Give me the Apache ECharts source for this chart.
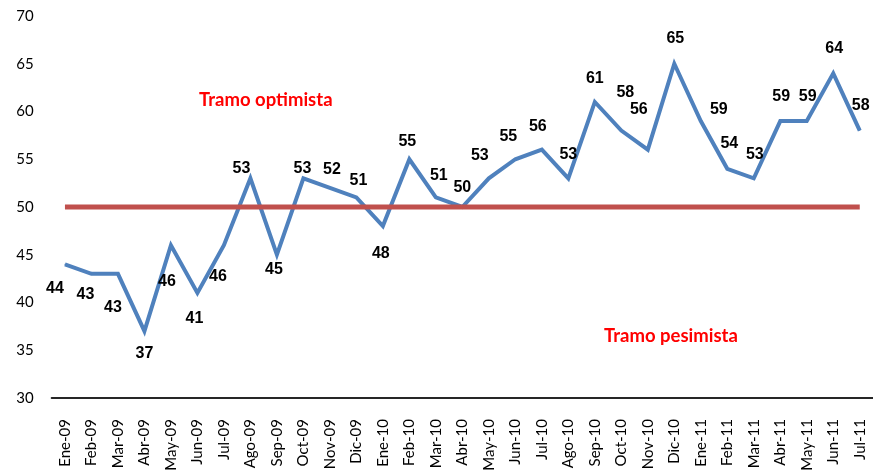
<!DOCTYPE html>
<html>
<head>
<meta charset="utf-8">
<script src="https://cdn.jsdelivr.net/npm/echarts@6/dist/echarts.min.js"></script>
<style>
  html, body { margin: 0; padding: 0; background: #fff; }
  #chart { width: 873px; height: 476px; }
</style>
</head>
<body>
<div id="chart"></div>
<script>
const months = [
  'Ene-09', 'Feb-09', 'Mar-09', 'Abr-09', 'May-09', 'Jun-09', 'Jul-09', 'Ago-09', 'Sep-09', 'Oct-09', 'Nov-09', 'Dic-09',
  'Ene-10', 'Feb-10', 'Mar-10', 'Abr-10', 'May-10', 'Jun-10', 'Jul-10', 'Ago-10', 'Sep-10', 'Oct-10', 'Nov-10', 'Dic-10',
  'Ene-11', 'Feb-11', 'Mar-11', 'Abr-11', 'May-11', 'Jun-11', 'Jul-11'
];
const indice = [
  44, 43, 43, 37, 46, 41, 46, 53, 45, 53, 52, 51,
  48, 55, 51, 50, 53, 55, 56, 53, 61, 58, 56, 65,
  59, 54, 53, 59, 59, 64, 58
];
const umbral = months.map(() => 50);
const yTicks = [30, 35, 40, 45, 50, 55, 60, 65, 70];

// label nudges, as placed by hand in the original
const labelNudge = [
  [-10, 24], [-6, 21], [-5, 34], [0, 22], [-4, 36], [-3, 26], [-6, 31], [-9, -10], [-3, 15], [-1, -10], [2, -18], [2, -17],
  [-2, 27], [-2, -18], [3, -22], [0, -19], [-9, -23], [-7, -23], [-4, -23], [0, -24], [0, -23], [4, -38], [-9, -40], [1, -25],
  [18, -11], [2, -25], [1, -24], [1, -24], [1, -24], [1, -25], [1, -25]
];

const chart = echarts.init(document.getElementById('chart'));

const option = {
  animation: false,
  grid: { left: 51.7, right: -2.3, top: 16, bottom: 78 },
  xAxis: {
    type: 'category',
    data: months,
    boundaryGap: true,
    axisLine: { lineStyle: { color: '#262626', width: 2 } },
    axisTick: { show: false },
    axisLabel: {
      interval: 0,
      rotate: 90,
      margin: 21,
      color: '#000',
      fontFamily: 'Lato',
      fontSize: 15
    }
  },
  yAxis: {
    type: 'value',
    min: yTicks[0],
    max: yTicks[yTicks.length - 1],
    interval: 5,
    splitLine: { show: false },
    axisLine: { show: false },
    axisTick: { show: false },
    axisLabel: {
      margin: 18,
      color: '#000',
      fontFamily: 'Lato',
      fontSize: 15
    }
  },
  graphic: [
    {
      type: 'text', left: 199, top: 91,
      style: { text: 'Tramo optimista', fill: '#ff0000', font: 'bold 18.5px Lato' }
    },
    {
      type: 'text', left: 604, top: 327,
      style: { text: 'Tramo pesimista', fill: '#ff0000', font: 'bold 18.5px Lato' }
    }
  ],
  series: [
    {
      name: 'Indice',
      type: 'line',
      data: indice.map((v, i) => ({
        value: v,
        label: { offset: labelNudge[i] }
      })),
      symbol: 'circle',
      symbolSize: 1,
      itemStyle: { color: '#4f81bd' },
      lineStyle: { color: '#4f81bd', width: 4, join: 'miter' },
      label: {
        show: true,
        position: 'inside',
        color: '#000',
        fontFamily: '"Liberation Sans", Arial, sans-serif',
        fontWeight: 'bold',
        fontSize: 16
      },
      z: 2
    },
    {
      name: 'Umbral',
      type: 'line',
      data: umbral,
      symbol: 'none',
      lineStyle: { color: '#c0504d', width: 5 },
      z: 3
    }
  ]
};

chart.setOption(option);
</script>
</body>
</html>
